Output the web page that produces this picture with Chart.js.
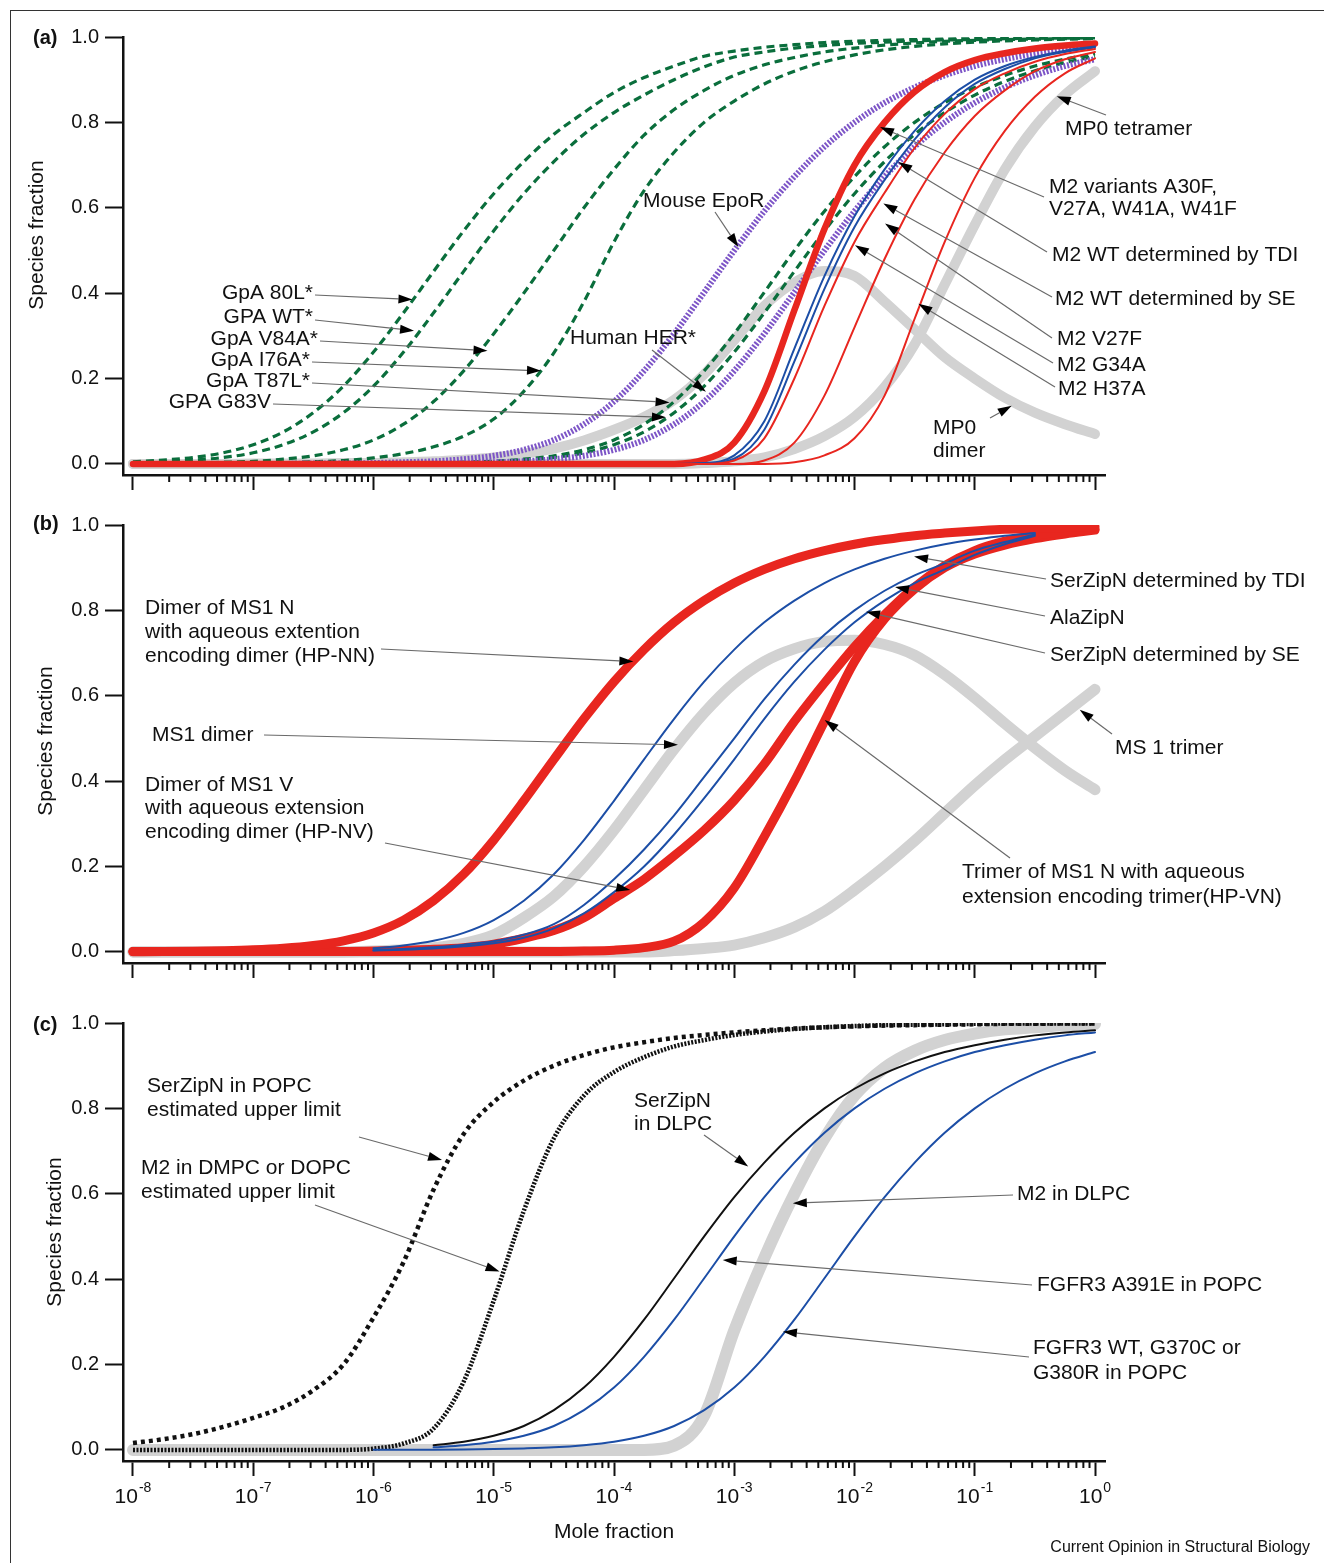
<!DOCTYPE html>
<html><head><meta charset="utf-8"><title>Species fraction vs mole fraction</title>
<script src="https://cdn.jsdelivr.net/npm/chart.js@4.4.1/dist/chart.umd.min.js"></script>
<style>
html,body{margin:0;padding:0;background:#fff}
#page{position:relative;width:1324px;height:1563px;overflow:hidden;background:#fff}
#page canvas{position:absolute;left:0}
#frame{position:absolute;left:10px;top:10px;width:1400px;height:1600px;border-top:1.5px solid #333;border-left:1.5px solid #333}
</style></head>
<body><div id="page"><div id="frame"></div>
<canvas id="pa" width="1324" height="500" style="top:0"></canvas>
<canvas id="pb" width="1324" height="500" style="top:500px"></canvas>
<canvas id="pc" width="1324" height="563" style="top:1000px"></canvas>
</div>
<script>
// ---- shared grid: log10(mole fraction) ----
const LOGX = [-8,-7.75,-7.5,-7.25,-7,-6.75,-6.5,-6.25,-6,-5.75,-5.5,-5.25,-5,-4.75,-4.5,-4.25,-4,-3.75,-3.5,-3.25,-3,-2.75,-2.5,-2.25,-2,-1.75,-1.5,-1.25,-1,-0.75,-0.5,-0.25,0];
const X_TICK_EXPONENTS = [-8,-7,-6,-5,-4,-3,-2,-1,0];
const Y_TICKS = [0,0.2,0.4,0.6,0.8,1.0];

// ---- panel (a) ----
const gpa80L   = [0.005,0.009,0.015,0.026,0.045,0.075,0.120,0.182,0.262,0.354,0.451,0.546,0.633,0.708,0.772,0.823,0.870,0.905,0.932,0.955,0.967,0.976,0.982,0.987,0.990,0.992,0.994,0.995,0.996,0.997,0.998,0.998,0.999];
const gpaWT    = [0.003,0.005,0.009,0.015,0.026,0.045,0.075,0.120,0.182,0.262,0.354,0.451,0.546,0.633,0.708,0.772,0.823,0.864,0.900,0.930,0.953,0.965,0.974,0.980,0.985,0.988,0.991,0.993,0.994,0.996,0.997,0.998,0.998];
const gpaV84A  = [0.001,0.001,0.002,0.004,0.006,0.011,0.019,0.033,0.056,0.093,0.146,0.218,0.305,0.400,0.500,0.600,0.690,0.770,0.830,0.875,0.910,0.935,0.952,0.965,0.974,0.981,0.986,0.990,0.992,0.994,0.995,0.996,0.997];
const gpaI76A  = [0,0,0.001,0.001,0.002,0.003,0.005,0.008,0.014,0.024,0.040,0.065,0.105,0.170,0.260,0.380,0.520,0.640,0.730,0.800,0.850,0.890,0.920,0.942,0.958,0.970,0.978,0.984,0.988,0.991,0.993,0.995,0.996];
const gpaT87L  = [0,0,0,0,0,0,0,0,0.001,0.001,0.002,0.004,0.006,0.011,0.019,0.033,0.056,0.093,0.146,0.218,0.305,0.402,0.500,0.592,0.673,0.743,0.800,0.846,0.882,0.910,0.932,0.948,0.961];
const gpaG83V  = [0,0,0,0,0,0,0,0,0,0.001,0.002,0.003,0.005,0.009,0.015,0.026,0.045,0.075,0.120,0.182,0.262,0.354,0.451,0.546,0.633,0.708,0.772,0.823,0.864,0.896,0.921,0.940,0.955];
const mouseEpoR= [0,0,0,0,0,0,0.001,0.001,0.002,0.004,0.006,0.011,0.019,0.033,0.056,0.093,0.146,0.218,0.305,0.402,0.500,0.592,0.673,0.743,0.800,0.846,0.882,0.910,0.932,0.948,0.961,0.971,0.978];
const humanHER = [0,0,0,0,0,0,0,0,0,0.001,0.001,0.002,0.004,0.006,0.011,0.019,0.033,0.056,0.093,0.146,0.218,0.305,0.402,0.500,0.592,0.673,0.743,0.800,0.846,0.882,0.910,0.932,0.948];
const mp0Dimer = [0,0,0,0,0.001,0.001,0.001,0.002,0.002,0.004,0.006,0.010,0.015,0.024,0.036,0.055,0.080,0.110,0.150,0.210,0.290,0.370,0.425,0.452,0.440,0.380,0.315,0.250,0.200,0.155,0.120,0.093,0.070];
const mp0Tetramer = [0,0,0,0,0,0,0,0,0,0,0,0,0,0,0,0,0,0,0,0.002,0.006,0.015,0.035,0.065,0.110,0.180,0.280,0.420,0.560,0.690,0.790,0.865,0.920];
const m2Variants  = [0,0,0,0,0,0,0,0,0,0,0,0,0,0,0,0,0,0,0,0.010,0.050,0.170,0.360,0.550,0.700,0.800,0.872,0.918,0.946,0.962,0.973,0.980,0.985];
const m2WT_TDI    = [0,0,0,0,0,0,0,0,0,0,0,0,0,0,0,0,0,0,0,0.002,0.020,0.100,0.270,0.440,0.580,0.690,0.780,0.850,0.900,0.932,0.953,0.968,0.978];
const m2WT_SE     = [0,0,0,0,0,0,0,0,0,0,0,0,0,0,0,0,0,0,0,0.001,0.012,0.080,0.240,0.410,0.555,0.665,0.760,0.835,0.890,0.925,0.950,0.965,0.976];
const m2V27F      = [0,0,0,0,0,0,0,0,0,0,0,0,0,0,0,0,0,0,0,0,0.008,0.060,0.200,0.370,0.520,0.635,0.740,0.820,0.878,0.915,0.942,0.960,0.972];
const m2G34A      = [0,0,0,0,0,0,0,0,0,0,0,0,0,0,0,0,0,0,0,0,0,0.008,0.050,0.160,0.320,0.480,0.620,0.730,0.815,0.875,0.920,0.948,0.965];
const m2H37A      = [0,0,0,0,0,0,0,0,0,0,0,0,0,0,0,0,0,0,0,0,0,0,0.004,0.020,0.060,0.160,0.340,0.520,0.670,0.780,0.860,0.915,0.950];

// ---- panel (b) ----
const hpNN       = [0.0005,0.0009,0.0016,0.0028,0.0048,0.0085,0.015,0.026,0.0445,0.0745,0.120,0.182,0.262,0.354,0.451,0.546,0.633,0.708,0.772,0.823,0.864,0.896,0.921,0.940,0.955,0.966,0.975,0.981,0.986,0.990,0.992,0.994,0.996];
const serZipN_TDI= [null,null,null,null,null,null,null,null,0.0085,0.015,0.026,0.0445,0.0745,0.120,0.182,0.262,0.354,0.451,0.546,0.633,0.708,0.772,0.823,0.864,0.896,0.921,0.940,0.955,0.966,0.975,0.981,null,null];
const alaZipN    = [null,null,null,null,null,null,null,null,0.004,0.007,0.011,0.017,0.025,0.040,0.065,0.110,0.170,0.240,0.320,0.410,0.500,0.592,0.673,0.743,0.800,0.846,0.882,0.910,0.940,0.960,0.978,null,null];
const serZipN_SE = [null,null,null,null,null,null,null,null,0.003,0.005,0.008,0.013,0.020,0.033,0.055,0.090,0.140,0.200,0.275,0.360,0.451,0.546,0.633,0.708,0.772,0.823,0.864,0.896,0.930,0.955,0.975,null,null];
const hpNV       = [0.001,0.001,0.001,0.001,0.001,0.001,0.001,0.001,0.002,0.004,0.006,0.010,0.018,0.032,0.050,0.080,0.125,0.170,0.225,0.285,0.355,0.440,0.540,0.630,0.715,0.790,0.855,0.905,0.940,0.962,0.976,0.985,0.990];
const trimerHPVN = [0.001,0.001,0.001,0.001,0.001,0.001,0.001,0.001,0.001,0.001,0.001,0.001,0.001,0.001,0.001,0.002,0.004,0.010,0.025,0.070,0.150,0.270,0.400,0.540,0.680,0.780,0.850,0.900,0.932,0.953,0.968,0.979,0.988];
const ms1Dimer   = [0,0,0,0,0,0,0,0,0.002,0.005,0.010,0.020,0.040,0.080,0.130,0.200,0.285,0.380,0.475,0.560,0.630,0.680,0.710,0.727,0.730,0.720,0.695,0.650,0.595,0.535,0.478,0.425,0.380];
const ms1Trimer  = [0,0,0,0,0,0,0,0,0,0,0,0,0,0,0,0,0,0,0.003,0.008,0.016,0.033,0.058,0.095,0.145,0.200,0.260,0.325,0.390,0.450,0.505,0.560,0.615];

// ---- panel (c) ----
const serZipN_POPC = [0.016,0.025,0.037,0.054,0.075,0.100,0.140,0.200,0.310,0.440,0.610,0.740,0.815,0.865,0.900,0.925,0.943,0.955,0.965,0.972,0.978,0.983,0.987,0.990,0.992,0.994,0.995,0.996,0.997,0.998,0.998,0.999,0.999];
const m2DMPC       = [0,0,0,0,0,0,0,0,0.003,0.015,0.050,0.160,0.350,0.560,0.730,0.830,0.885,0.920,0.945,0.960,0.972,0.980,0.986,0.990,0.993,0.995,0.996,0.997,0.998,0.999,0.999,0.999,0.999];
const serZipN_DLPC = [null,null,null,null,null,null,null,null,null,null,0.011,0.019,0.033,0.056,0.093,0.146,0.218,0.305,0.402,0.500,0.592,0.673,0.743,0.800,0.846,0.882,0.910,0.932,0.948,0.961,0.971,0.978,0.983];
const fgfr3A391E   = [null,null,null,null,null,null,null,null,null,null,0.006,0.011,0.019,0.033,0.056,0.093,0.146,0.218,0.305,0.402,0.500,0.592,0.673,0.743,0.800,0.846,0.882,0.910,0.932,0.948,0.961,0.971,0.978];
const fgfr3WT      = [null,null,null,null,null,null,null,null,0.0002,0.0004,0.0006,0.0011,0.002,0.0035,0.006,0.011,0.019,0.033,0.056,0.093,0.146,0.218,0.305,0.402,0.500,0.592,0.673,0.743,0.800,0.846,0.882,0.910,0.932];
const m2DLPC       = [0,0,0,0,0,0,0,0,0,0,0,0,0,0,0,0,0,0,0.010,0.080,0.280,0.450,0.600,0.730,0.830,0.895,0.935,0.960,0.975,0.985,0.990,0.995,0.998];

// ---- styling ----
const FONT = '"Liberation Sans", Arial, Helvetica, sans-serif';
const COL = {red:'#e8261f', blue:'#1c4ea6', green:'#0a6e3c', purple:'#7d55c7', gray:'#d2d2d2', black:'#111111'};
const XMIN = Math.pow(10,-8.083), XMAX = Math.pow(10,0.083);

function pts(arr){
  const out = [];
  arr.forEach((v,i)=>{ if (v !== null) out.push({x: Math.pow(10, LOGX[i]), y: v}); });
  return out;
}
function series(label, arr, color, width, dash, order){
  return {label, data: pts(arr), borderColor: color, borderWidth: width, borderDash: dash || [],
    order, fill:false, pointRadius:0, pointHoverRadius:0, cubicInterpolationMode:'monotone',
    borderCapStyle: dash ? 'butt' : 'round', borderJoinStyle:'round'};
}

const GREEN_DASH = [8,5], PURPLE_DOT = [2,1.6];
const dataA = [
  series('MP0 dimer', mp0Dimer, COL.gray, 10, null, 20),
  series('MP0 tetramer', mp0Tetramer, COL.gray, 10, null, 20),
  series('GpA 80L*', gpa80L, COL.green, 3.2, GREEN_DASH, 15),
  series('GPA WT*', gpaWT, COL.green, 3.2, GREEN_DASH, 15),
  series('GpA V84A*', gpaV84A, COL.green, 3.2, GREEN_DASH, 15),
  series('GpA I76A*', gpaI76A, COL.green, 3.2, GREEN_DASH, 15),
  series('GpA T87L*', gpaT87L, COL.green, 3.2, GREEN_DASH, 15),
  series('GPA G83V', gpaG83V, COL.green, 3.2, GREEN_DASH, 15),
  series('Mouse EpoR', mouseEpoR, COL.purple, 6, PURPLE_DOT, 12),
  series('Human HER*', humanHER, COL.purple, 6, PURPLE_DOT, 12),
  series('M2 variants', m2Variants, COL.red, 6.5, null, 10),
  series('M2 WT TDI', m2WT_TDI, COL.blue, 2, null, 5),
  series('M2 WT SE', m2WT_SE, COL.blue, 2, null, 5),
  series('M2 V27F', m2V27F, COL.red, 2, null, 4),
  series('M2 G34A', m2G34A, COL.red, 2, null, 4),
  series('M2 H37A', m2H37A, COL.red, 2, null, 4)
];
const dataB = [
  series('MS1 dimer', ms1Dimer, COL.gray, 11, null, 20),
  series('MS 1 trimer', ms1Trimer, COL.gray, 11, null, 20),
  series('HP-NN', hpNN, COL.red, 9, null, 10),
  series('HP-NV', hpNV, COL.red, 9, null, 10),
  series('HP-VN', trimerHPVN, COL.red, 9, null, 10),
  series('SerZipN TDI', serZipN_TDI, COL.blue, 2, null, 5),
  series('AlaZipN', alaZipN, COL.blue, 2, null, 5),
  series('SerZipN SE', serZipN_SE, COL.blue, 2, null, 5)
];
const dataC = [
  series('M2 in DLPC', m2DLPC, COL.gray, 12, null, 20),
  series('SerZipN in POPC', serZipN_POPC, COL.black, 4.5, [4,4], 8),
  series('M2 in DMPC or DOPC', m2DMPC, COL.black, 4.5, [2,1.5], 8),
  series('SerZipN in DLPC', serZipN_DLPC, COL.black, 2, null, 6),
  series('FGFR3 A391E', fgfr3A391E, COL.blue, 2, null, 5),
  series('FGFR3 WT', fgfr3WT, COL.blue, 2, null, 5)
];

// ---- annotations: text in page pixels, arrow tips in data coords [log10 x, fraction] ----
const DECO = {
  pa: {top:0, tag:'(a)', tagY:38, yTitleX:37, yTitleY:235, notes:[
    {lines:['GpA 80L*'], x:313, y:293, align:'right', from:[315,295], tip:[-5.676,0.385]},
    {lines:['GPA WT*'], x:313, y:317, align:'right', from:[315,320], tip:[-5.663,0.312]},
    {lines:['GpA V84A*'], x:318, y:339, align:'right', from:[320,341], tip:[-5.052,0.265]},
    {lines:['GpA I76A*'], x:310, y:360, align:'right', from:[312,362], tip:[-4.607,0.218]},
    {lines:['GpA T87L*'], x:310, y:381, align:'right', from:[312,383], tip:[-3.538,0.144]},
    {lines:['GPA G83V'], x:271, y:402, align:'right', from:[273,404], tip:[-3.568,0.109]},
    {lines:['Human HER*'], x:570, y:338, from:[652,350], tip:[-3.235,0.169]},
    {lines:['Mouse EpoR'], x:643, y:201, from:[715,212], tip:[-2.966,0.508]},
    {lines:['MP0 tetramer'], x:1065, y:129, from:[1106,115], tip:[-0.318,0.861]},
    {lines:['M2 variants A30F,','V27A, W41A, W41F'], x:1049, y:187, lh:22, from:[1044,197], tip:[-1.788,0.789]},
    {lines:['M2 WT determined by TDI'], x:1052, y:255, from:[1047,252], tip:[-1.636,0.707]},
    {lines:['M2 WT determined by SE'], x:1055, y:299, from:[1052,297], tip:[-1.760,0.610]},
    {lines:['M2 V27F'], x:1057, y:339, from:[1052,338], tip:[-1.746,0.563]},
    {lines:['M2 G34A'], x:1057, y:365, from:[1053,363], tip:[-1.996,0.512]},
    {lines:['M2 H37A'], x:1058, y:389, from:[1055,387], tip:[-1.469,0.375]},
    {lines:['MP0','dimer'], x:933, y:428, lh:23, from:[990,418], tip:[-0.693,0.136]}
  ]},
  pb: {top:500, tag:'(b)', tagY:524, yTitleX:46, yTitleY:741, notes:[
    {lines:['SerZipN determined by TDI'], x:1050, y:581, from:[1046,579], tip:[-1.505,0.926]},
    {lines:['AlaZipN'], x:1050, y:618, from:[1045,616], tip:[-1.663,0.855]},
    {lines:['SerZipN determined by SE'], x:1050, y:655, from:[1045,653], tip:[-1.904,0.797]},
    {lines:['Dimer of MS1 N','with aqueous extention','encoding dimer (HP-NN)'], x:145, y:608, lh:24, from:[381,649], tip:[-3.839,0.680]},
    {lines:['MS1 dimer'], x:152, y:735, from:[264,735], tip:[-3.468,0.485]},
    {lines:['Dimer of MS1 V','with aqueous extension','encoding dimer (HP-NV)'], x:145, y:785, lh:23.5, from:[385,843], tip:[-3.865,0.145]},
    {lines:['MS 1 trimer'], x:1115, y:748, from:[1112,734], tip:[-0.127,0.567]},
    {lines:['Trimer of MS1 N with aqueous','extension encoding trimer(HP-VN)'], x:962, y:872, lh:25, from:[1010,858], tip:[-2.248,0.543]}
  ]},
  pc: {top:1000, tag:'(c)', tagY:1025, yTitleX:55, yTitleY:1232, xLabels:true, notes:[
    {lines:['SerZipN in POPC','estimated upper limit'], x:147, y:1086, lh:24, from:[359,1137], tip:[-5.430,0.679]},
    {lines:['M2 in DMPC or DOPC','estimated upper limit'], x:141, y:1168, lh:24, from:[315,1205], tip:[-4.952,0.418]},
    {lines:['SerZipN','in DLPC'], x:634, y:1101, lh:23, from:[704,1135], tip:[-2.884,0.664]},
    {lines:['M2 in DLPC'], x:1017, y:1194, from:[1013,1195], tip:[-2.513,0.578]},
    {lines:['FGFR3 A391E in POPC'], x:1037, y:1285, from:[1032,1285], tip:[-3.096,0.445]},
    {lines:['FGFR3 WT, G370C or','G380R in POPC'], x:1033, y:1348, lh:25, from:[1029,1357], tip:[-2.595,0.277]}
  ]}
};

function arrow(ctx, x0, y0, x1, y1){
  const dx = x1-x0, dy = y1-y0, L = Math.hypot(dx,dy) || 1, ux = dx/L, uy = dy/L, hl = 14, hw = 4.5;
  const bx = x1-ux*hl, by = y1-uy*hl;
  ctx.strokeStyle = '#6a6a6a'; ctx.lineWidth = 1.2;
  ctx.beginPath(); ctx.moveTo(x0,y0); ctx.lineTo(bx,by); ctx.stroke();
  ctx.fillStyle = '#000';
  ctx.beginPath(); ctx.moveTo(x1,y1); ctx.lineTo(bx-uy*hw, by+ux*hw); ctx.lineTo(bx+uy*hw, by-ux*hw); ctx.closePath(); ctx.fill();
}

const decoPlugin = {
  id:'deco',
  afterDraw(chart){
    const d = DECO[chart.canvas.id];
    const ctx = chart.ctx, xs = chart.scales.x, ys = chart.scales.y, ca = chart.chartArea, T = d.top;
    ctx.save();
    // minor ticks of the log axis
    ctx.strokeStyle = '#111'; ctx.lineWidth = 2;
    for (let k = X_TICK_EXPONENTS[0]; k < X_TICK_EXPONENTS[X_TICK_EXPONENTS.length-1]; k++){
      for (let m = 2; m <= 9; m++){
        const px = xs.getPixelForValue(m*Math.pow(10,k));
        ctx.beginPath(); ctx.moveTo(px, ca.bottom); ctx.lineTo(px, ca.bottom+7); ctx.stroke();
      }
    }
    // panel tag
    ctx.fillStyle = '#111'; ctx.textBaseline = 'middle'; ctx.textAlign = 'left';
    ctx.font = 'bold 20px ' + FONT;
    ctx.fillText(d.tag, 33, d.tagY - T);
    // y title
    ctx.save(); ctx.translate(d.yTitleX, d.yTitleY - T); ctx.rotate(-Math.PI/2);
    ctx.font = '21px ' + FONT; ctx.textAlign = 'center'; ctx.fillText('Species fraction', 0, 0); ctx.restore();
    // annotations
    d.notes.forEach(n => {
      ctx.font = '21px ' + FONT; ctx.fillStyle = '#111'; ctx.textBaseline = 'middle';
      ctx.textAlign = n.align || 'left';
      n.lines.forEach((s,j) => ctx.fillText(s, n.x, n.y - T + j*(n.lh || 23)));
      const tx = xs.getPixelForValue(Math.pow(10, n.tip[0]));
      const ty = ys.getPixelForValue(n.tip[1]);
      arrow(ctx, n.from[0], n.from[1]-T, tx, ty);
    });
    // x tick labels with superscripts + axis title + credit
    if (d.xLabels){
      ctx.fillStyle = '#111'; ctx.textBaseline = 'alphabetic'; ctx.textAlign = 'left';
      X_TICK_EXPONENTS.forEach(k => {
        const px = xs.getPixelForValue(Math.pow(10,k));
        const sup = k === 0 ? '0' : '-' + (-k);
        ctx.font = '21px ' + FONT; const w1 = ctx.measureText('10').width;
        ctx.font = '14px ' + FONT; const w2 = ctx.measureText(sup).width;
        const left = px - (w1 + w2 + 1)/2;
        ctx.font = '21px ' + FONT; ctx.fillText('10', left, 1503 - T);
        ctx.font = '14px ' + FONT; ctx.fillText(sup, left + w1 + 1, 1492 - T);
      });
      ctx.textBaseline = 'middle'; ctx.textAlign = 'center'; ctx.font = '21px ' + FONT;
      ctx.fillText('Mole fraction', (ca.left + ca.right)/2, 1532 - T);
      ctx.textAlign = 'right'; ctx.font = '16px ' + FONT;
      ctx.fillText('Current Opinion in Structural Biology', 1310, 1548 - T);
    }
    ctx.restore();
  }
};

function makeChart(id, padTop, axisH, datasets){
  return new Chart(document.getElementById(id), {
    type:'line',
    data:{datasets},
    options:{
      responsive:false, animation:false, events:[],
      layout:{padding:{left:0, right:219, top:padTop, bottom:0}},
      plugins:{legend:{display:false}, tooltip:{enabled:false}},
      scales:{
        x:{type:'logarithmic', position:'bottom', min:XMIN, max:XMAX, bounds:'data',
          afterBuildTicks:s => { s.ticks = X_TICK_EXPONENTS.map(k => ({value:Math.pow(10,k), major:true})); s.min = XMIN; s.max = XMAX; },
          afterFit:s => { s.height = axisH; },
          ticks:{display:false},
          grid:{display:true, drawOnChartArea:false, drawTicks:true, tickLength:15, tickWidth:2, tickColor:'#111'},
          border:{display:true, color:'#111', width:2.5}},
        y:{type:'linear', position:'left', min:-0.026, max:1, bounds:'data',
          afterBuildTicks:s => { s.ticks = Y_TICKS.map(v => ({value:v})); s.min = -0.026; s.max = 1; },
          afterFit:s => { s.width = 123; },
          ticks:{color:'#111', font:{family:FONT, size:20}, padding:6, callback:v => Number(v).toFixed(1)},
          grid:{display:true, drawOnChartArea:false, drawTicks:true, tickLength:18, tickWidth:2, tickColor:'#111'},
          border:{display:true, color:'#111', width:2.5}}
      }
    },
    plugins:[decoPlugin]
  });
}

makeChart('pa', 37, 25, dataA);
makeChart('pb', 25, 37, dataB);
makeChart('pc', 23, 102, dataC);
</script></body></html>
